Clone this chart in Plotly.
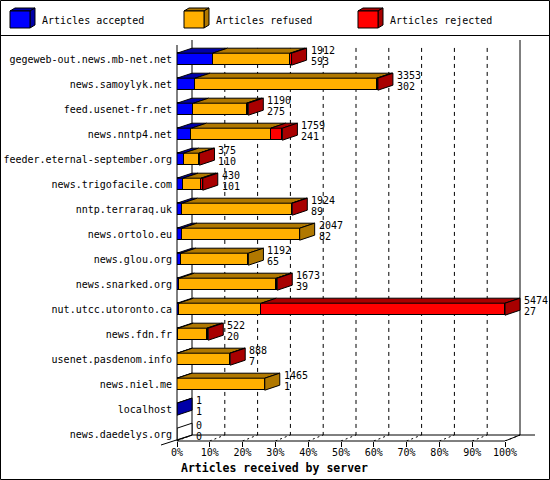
import plotly.graph_objects as go

# articles received by server (innreport style)
servers = ['gegeweb-out.news.mb-net.net', 'news.samoylyk.net', 'feed.usenet-fr.net',
           'news.nntp4.net', 'feeder.eternal-september.org', 'news.trigofacile.com',
           'nntp.terraraq.uk', 'news.ortolo.eu', 'news.glou.org', 'news.snarked.org',
           'nut.utcc.utoronto.ca', 'news.fdn.fr', 'usenet.pasdenom.info', 'news.niel.me',
           'localhost', 'news.daedelys.org']
offered = [1912, 3353, 1190, 1759, 375, 430, 1924, 2047, 1192, 1673, 5474, 522, 888, 1465, 1, 0]
accepted = [593, 302, 275, 241, 110, 101, 89, 82, 65, 39, 27, 20, 7, 1, 1, 0]
refused = [1295, 3031, 885, 1323, 257, 299, 1825, 1965, 1127, 1619, 1380, 480, 876, 1464, 0, 0]
rejected = [24, 20, 30, 195, 8, 30, 10, 0, 0, 15, 4067, 22, 5, 0, 0, 0]
xticks = [0, 10, 20, 30, 40, 50, 60, 70, 80, 90, 100]

FONT = 'DejaVu Sans Mono'
front = ['#0000FF', '#FFB000', '#FF0000']
dark = ['#0000A8', '#B07800', '#A80000']
names = ['Articles accepted', 'Articles refused', 'Articles rejected']

#pixel geometry
W, H = 550, 480
L, R, T, B = 177, 2, 40, 39
PXPCT = 3.28          # pixels per percent
ROWPX = 25.0          # pixels per row
ROW0 = 59.2           # pixel y of first row centre
XMAX = (W - L - R) / PXPCT
YMIN = (T - ROW0) / ROWPX
YMAX = (H - B - ROW0) / ROWPX
dx = 15 / PXPCT       # depth in x
dy = 5 / ROWPX        # depth in y
hh = 6 / ROWPX        # half bar height
yback = (435 - ROW0) / ROWPX

scale = 100.0 / max(offered)
rows = list(range(len(servers)))

def px2paper(xp, yp):
    return (xp - L) / (W - L - R), (H - B - yp) / (H - T - B)

def d2paper(x, y):
    return x / XMAX, (YMAX - y) / (YMAX - YMIN)

fig = go.Figure()

#front faces
for k, vals in enumerate([accepted, refused, rejected]):
    fig.add_trace(go.Bar(y=rows, x=[v * scale for v in vals], orientation='h', width=2 * hh,
                         marker=dict(color=front[k], line=dict(color='black', width=1)),
                         showlegend=False, hoverinfo='skip'))

#top and side faces
tops = [[[], []] for _ in range(3)]
sides = [[[], []] for _ in range(4)]
for i in rows:
    cum = 0
    last = 3
    yt = i - hh
    for k, vals in enumerate([accepted, refused, rejected]):
        v = vals[i]
        if v <= 0:
            continue
        x0 = cum * scale
        x1 = (cum + v) * scale
        tops[k][0] += [x0, x1, x1 + dx, x0 + dx, x0, None]
        tops[k][1] += [yt, yt, yt - dy, yt - dy, yt, None]
        cum += v
        last = k
    xe = cum * scale
    sides[last][0] += [xe, xe + dx, xe + dx, xe, xe, None]
    sides[last][1] += [yt, yt - dy, i + hh - dy, i + hh, yt, None]

for k in range(3):
    fig.add_trace(go.Scatter(x=tops[k][0], y=tops[k][1], mode='lines', fill='toself',
                             fillcolor=dark[k], line=dict(color='black', width=1),
                             showlegend=False, hoverinfo='skip'))
for k in range(4):
    if not sides[k][0]:
        continue
    fig.add_trace(go.Scatter(x=sides[k][0], y=sides[k][1], mode='lines', fill='toself',
                             fillcolor=dark[k] if k < 3 else 'white',
                             line=dict(color='black', width=1),
                             showlegend=False, hoverinfo='skip'))

#value labels
for i in rows:
    xe = offered[i] * scale + dx
    for txt, ys in [(offered[i], 9), (accepted[i], -2)]:
        fig.add_annotation(x=xe, y=i, text=str(txt), showarrow=False, xanchor='left',
                           yanchor='middle', xshift=2, yshift=ys,
                           font=dict(family=FONT, size=10, color='black'))

shapes = []
ln = dict(color='black', width=1)
#back wall gridlines
for t in xticks[1:-1]:
    shapes.append(dict(type='line', xref='x', yref='y', x0=t + dx, x1=t + dx, y0=-0.45, y1=yback,
                       line=dict(color='black', width=1, dash='4px,4px'), layer='below'))
#tick depth marks on floor
for t in xticks:
    shapes.append(dict(type='line', xref='x', yref='y', x0=t, x1=t + dx, y0=YMAX, y1=yback,
                       line=dict(color='black', width=1, dash='2px,3px'), layer='below'))
#back walls and floor
shapes.append(dict(type='line', xref='x', yref='y', x0=dx, x1=dx, y0=YMIN, y1=yback, line=ln, layer='below'))
shapes.append(dict(type='line', xref='x', yref='y', x0=100 + dx, x1=100 + dx, y0=YMIN, y1=yback, line=ln, layer='below'))
shapes.append(dict(type='line', xref='x', yref='y', x0=dx, x1=(535 - L) / PXPCT, y0=yback, y1=yback, line=ln, layer='below'))
shapes.append(dict(type='line', xref='x', yref='y', x0=100, x1=100 + dx, y0=YMAX, y1=yback, line=ln, layer='below'))

#front axis lines (paper so they are not clipped)
ax0, ay0 = d2paper(0, YMAX)
ax1, ay1 = d2paper(100, YMAX)
_, aytop = px2paper(0, 45)
shapes.append(dict(type='line', xref='paper', yref='paper', x0=ax0, x1=ax0, y0=ay0, y1=aytop, line=ln))
shapes.append(dict(type='line', xref='paper', yref='paper', x0=ax0, x1=ax1, y0=ay0, y1=ay1, line=ln))
bx, by = d2paper(dx, yback)
ex, ey = px2paper(161, 445)
shapes.append(dict(type='line', xref='paper', yref='paper', x0=bx, x1=ex, y0=by, y1=ey, line=ln))

#frame and legend separator
fx0, fy0 = px2paper(0.5, 0.5)
fx1, fy1 = px2paper(549.5, 479.5)
shapes.append(dict(type='rect', xref='paper', yref='paper', x0=fx0, x1=fx1, y0=fy0, y1=fy1, line=ln))
_, sy = px2paper(0, 35.5)
shapes.append(dict(type='line', xref='paper', yref='paper', x0=fx0, x1=fx1, y0=sy, y1=sy, line=ln))

#legend cubes
def ppath(pts):
    s = ''
    for j, (a, b) in enumerate(pts):
        pa, pb = px2paper(a, b)
        s += ('M' if j == 0 else 'L') + '{:.5f},{:.5f} '.format(pa, pb)
    return s + 'Z'

for k, lx in enumerate([10, 184, 358]):
    shapes.append(dict(type='path', xref='paper', yref='paper', fillcolor=dark[k], line=ln,
                       path=ppath([(lx, 11), (lx + 20, 11), (lx + 25, 8), (lx + 5, 8)])))
    shapes.append(dict(type='path', xref='paper', yref='paper', fillcolor=dark[k], line=ln,
                       path=ppath([(lx + 20, 11), (lx + 25, 8), (lx + 25, 25), (lx + 20, 28)])))
    shapes.append(dict(type='path', xref='paper', yref='paper', fillcolor=front[k], line=ln,
                       path=ppath([(lx, 11), (lx + 20, 11), (lx + 20, 28), (lx, 28)])))
    tx, ty = px2paper(lx + 30, 20)
    fig.add_annotation(x=tx, y=ty, xref='paper', yref='paper', text=names[k], showarrow=False,
                       xanchor='left', yanchor='middle', font=dict(family=FONT, size=10, color='black'))

tx, ty = px2paper(179, 468)
fig.add_annotation(x=tx, y=ty, xref='paper', yref='paper', text='<b>Articles received by server</b>',
                   showarrow=False, xanchor='left', yanchor='middle',
                   font=dict(family=FONT, size=11.5, color='black'))

fig.update_layout(width=W, height=H, margin=dict(l=L, r=R, t=T, b=B),
                  paper_bgcolor='white', plot_bgcolor='white', barmode='stack',
                  shapes=shapes, showlegend=False, bargap=0)
fig.update_xaxes(range=[0, XMAX], tickvals=xticks, ticktext=[str(t) + '%' for t in xticks],
                 ticks='outside', ticklen=5, tickcolor='black', showgrid=False, zeroline=False,
                 showline=False, ticklabelstandoff=-3,
                 tickfont=dict(family=FONT, size=10, color='black'), fixedrange=True)
fig.update_yaxes(range=[YMAX, YMIN], tickvals=rows, ticktext=servers, ticks='', showgrid=False,
                 zeroline=False, showline=False, ticklabelstandoff=4,
                 tickfont=dict(family=FONT, size=10, color='black'), fixedrange=True)

fig.write_html("out.html", config={'displayModeBar': False},
               post_script="document.body.style.margin='0';document.body.style.overflow='hidden';")
